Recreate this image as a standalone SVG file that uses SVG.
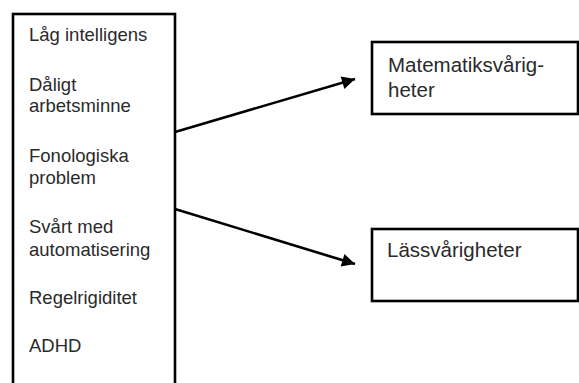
<svg xmlns="http://www.w3.org/2000/svg" width="579" height="383" viewBox="0 0 579 383">
<style>
.box{fill:#fff;stroke:#000;stroke-width:2.6}
.t{font-family:"Liberation Sans",Arial,sans-serif;font-size:18.5px;fill:#2a2a2a}
.tr{font-family:"Liberation Sans",Arial,sans-serif;font-size:20.5px;fill:#2a2a2a}
.c{stroke:#000;stroke-width:2.6;fill:none}
</style>
<defs>
<marker id="ah" viewBox="0 0 10 10" refX="10" refY="5" markerWidth="6" markerHeight="5" markerUnits="strokeWidth" orient="auto">
<path d="M0,0 L10,5 L0,10 Z" fill="#000"/>
</marker>
</defs>
<rect width="579" height="383" fill="#fff"/>
<g id="causes">
<rect class="box" x="13" y="14" width="162" height="380"/>
<text class="t" x="29" y="41">Låg intelligens</text>
<text class="t" x="29" y="91">Dåligt</text>
<text class="t" x="29" y="112">arbetsminne</text>
<text class="t" x="29" y="162">Fonologiska</text>
<text class="t" x="29" y="184">problem</text>
<text class="t" x="29" y="233">Svårt med</text>
<text class="t" x="29" y="256">automatisering</text>
<text class="t" x="29" y="304">Regelrigiditet</text>
<text class="t" x="29" y="352">ADHD</text>
</g>
<g id="math">
<rect class="box" x="372" y="42" width="206" height="72"/>
<text class="tr" x="388" y="72">Matematiksvårig-</text>
<text class="tr" x="388" y="97">heter</text>
</g>
<g id="read">
<rect class="box" x="372" y="229" width="206" height="72"/>
<text class="tr" x="387" y="257">Lässvårigheter</text>
</g>
<g id="connectors">
<line class="c" x1="175" y1="132" x2="355" y2="79" marker-end="url(#ah)"/>
<line class="c" x1="175" y1="209" x2="355" y2="264" marker-end="url(#ah)"/>
</g>
</svg>
